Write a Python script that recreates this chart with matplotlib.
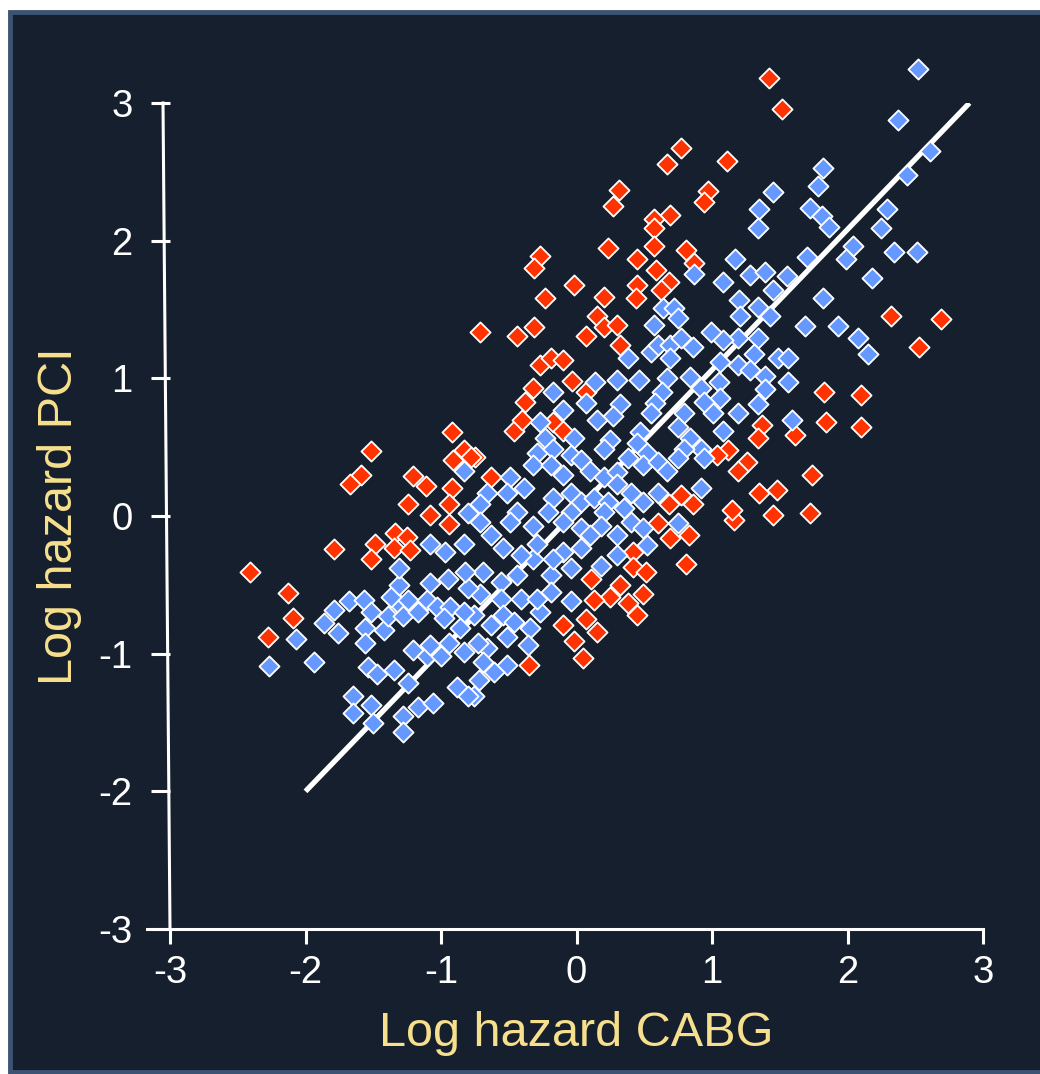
import matplotlib
matplotlib.use("Agg")
import matplotlib.pyplot as plt
from matplotlib.patches import Rectangle
from matplotlib.lines import Line2D

# Log hazard pairs: hospitals flagged as discordant (red) and concordant (blue)
red_x = [1.42, 1.52, 0.77, 0.67, 1.11, 0.31, 0.27, 0.97, 0.94, 0.69,
         0.57, 0.57, 0.23, 0.57, 0.81, 0.87, 0.45, 0.59, -0.27, -0.31,
         -0.02, 0.45, 0.68, 0.62, -0.23, 0.20, 0.44, -0.71, -0.44, -0.31,
         0.07, 0.15, 0.20, 0.30, 0.32, -0.27, -0.19, -0.10, -0.32, -0.38,
         -0.03, 0.07, -0.46, -0.40, -0.17, -0.10, -0.75, -0.63, 0.68, 0.77,
         0.86, 0.60, 0.69, 0.83, 0.81, 0.42, 0.42, 0.51, 0.32, 0.49,
         0.25, 0.38, 0.45, 0.11, 0.13, 0.07, 0.15, -0.10, -0.02, 0.05,
         -0.35, -0.92, -1.52, -1.59, -1.67, -1.21, -1.11, -0.92, -0.83, -0.91,
         -0.78, -1.24, -1.08, -0.94, -0.94, -1.34, -1.25, -1.35, -1.23, -1.49,
         -1.52, -1.79, -2.41, -2.13, -2.09, -2.28, 2.32, 2.69, 2.53, 1.83,
         2.10, 1.84, 2.10, 1.37, 1.34, 1.61, 1.12, 1.04, 1.26, 1.19,
         1.74, 1.35, 1.48, 1.16, 1.45, 1.72, 1.15]
red_y = [3.18, 2.96, 2.67, 2.56, 2.58, 2.37, 2.25, 2.36, 2.28, 2.19,
         2.16, 2.09, 1.95, 1.96, 1.93, 1.84, 1.87, 1.79, 1.89, 1.80,
         1.68, 1.68, 1.70, 1.64, 1.58, 1.59, 1.58, 1.34, 1.31, 1.37,
         1.31, 1.45, 1.37, 1.39, 1.24, 1.10, 1.15, 1.13, 0.93, 0.83,
         0.98, 0.90, 0.62, 0.70, 0.68, 0.62, 0.43, 0.28, 0.09, 0.15,
         0.09, -0.05, -0.16, -0.14, -0.35, -0.26, -0.37, -0.41, -0.50, -0.57,
         -0.59, -0.63, -0.72, -0.46, -0.61, -0.75, -0.84, -0.79, -0.91, -1.03,
         -1.08, 0.61, 0.47, 0.30, 0.23, 0.29, 0.22, 0.20, 0.48, 0.41,
         0.43, 0.09, 0.01, 0.09, -0.06, -0.12, -0.15, -0.23, -0.25, -0.20,
         -0.31, -0.24, -0.41, -0.56, -0.74, -0.88, 1.45, 1.43, 1.23, 0.90,
         0.88, 0.68, 0.65, 0.66, 0.57, 0.59, 0.48, 0.44, 0.39, 0.33,
         0.30, 0.17, 0.19, -0.03, 0.01, 0.02, 0.04]

blue_x = [2.52, 2.37, 2.61, 2.44, 1.82, 1.78, 1.45, 1.35, 1.34, 1.72,
          1.81, 1.86, 2.29, 2.25, 2.04, 1.99, 2.34, 2.51, 1.17, 1.28,
          1.39, 1.55, 1.70, 2.18, 1.08, 1.45, 1.82, 1.20, 1.21, 1.34,
          1.43, 1.69, 1.93, 2.08, 2.15, 1.19, 1.34, 1.08, 1.31, 1.49,
          1.56, 1.06, 1.19, 1.28, 1.39, 1.56, 1.05, 1.39, 1.06, 1.34,
          1.19, 1.01, 1.59, 1.08, 0.87, 0.64, 0.72, 0.75, 0.57, 0.55,
          0.38, 0.60, 0.69, 0.77, 0.86, 0.69, 0.99, -0.17, 0.14, 0.30,
          0.46, 0.67, 0.63, 0.84, 0.92, 0.58, 0.55, 0.32, 0.27, 0.15,
          0.07, -0.10, 0.79, 0.75, 0.94, -0.27, -0.23, -0.02, 0.25, 0.20,
          0.47, 0.45, 0.52, 0.84, 0.92, 0.79, -0.29, -0.17, -0.04, 0.03,
          -0.32, -0.19, -0.10, 0.10, 0.20, 0.30, 0.38, 0.49, 0.60, 0.67,
          0.75, 0.94, -0.49, -0.39, -0.51, -0.66, -0.71, -0.17, -0.04, 0.03,
          0.13, 0.23, 0.30, 0.40, 0.49, 0.60, 0.92, -0.44, -0.21, -0.04,
          0.20, 0.35, 0.75, 0.52, 0.30, 0.18, -0.04, -0.27, -0.34, -0.36,
          -0.51, -0.66, -0.69, -0.51, -0.61, -0.72, -0.76, -0.19, -0.19, -0.32,
          -0.41, -0.54, -0.63, -0.71, -0.49, -0.32, -0.10, 0.03, 0.18, 0.30,
          0.40, 0.49, -0.04, -0.10, 0.03, -0.29, -0.44, -0.56, -0.69, -0.71,
          -0.56, -0.41, -0.29, -0.54, -0.63, -0.46, -0.73, -0.76, -0.17, 0.10,
          -2.27, -1.94, -2.07, -1.79, -1.68, -1.57, -1.86, -1.76, -1.56, -1.56,
          -1.52, -1.42, -1.39, -1.32, -1.37, -1.31, -1.31, -1.24, -1.28, -1.17,
          -1.10, -1.08, -1.03, -1.08, -0.97, -0.83, -0.95, -0.93, -0.98, -0.83,
          -0.86, -0.80, -1.21, -1.10, -1.00, -1.08, -0.94, -0.83, -1.54, -1.47,
          -1.35, -1.24, -0.88, -0.80, -1.65, -1.65, -1.52, -1.50, -1.28, -1.17,
          -1.06, -1.28, -0.80, -0.83, -0.82]
blue_y = [3.25, 2.88, 2.65, 2.48, 2.53, 2.40, 2.35, 2.23, 2.09, 2.24,
          2.18, 2.10, 2.23, 2.09, 1.96, 1.87, 1.92, 1.92, 1.87, 1.75,
          1.77, 1.74, 1.88, 1.73, 1.70, 1.64, 1.58, 1.57, 1.45, 1.52,
          1.45, 1.38, 1.38, 1.29, 1.18, 1.29, 1.29, 1.28, 1.18, 1.15,
          1.15, 1.12, 1.10, 1.06, 1.02, 0.97, 0.97, 0.92, 0.86, 0.81,
          0.75, 0.75, 0.70, 0.62, 1.76, 1.51, 1.51, 1.44, 1.39, 1.19,
          1.15, 1.24, 1.24, 1.29, 1.23, 1.15, 1.34, 0.90, 0.97, 0.99,
          0.99, 1.00, 0.90, 1.01, 0.93, 0.82, 0.75, 0.81, 0.73, 0.70,
          0.82, 0.77, 0.75, 0.65, 0.83, 0.68, 0.57, 0.57, 0.55, 0.49,
          0.61, 0.53, 0.46, 0.57, 0.49, 0.49, 0.46, 0.49, 0.44, 0.41,
          0.37, 0.37, 0.30, 0.33, 0.28, 0.32, 0.42, 0.37, 0.39, 0.33,
          0.42, 0.42, 0.28, 0.20, 0.17, 0.17, 0.09, 0.13, 0.17, 0.10,
          0.13, 0.10, 0.23, 0.17, 0.10, 0.17, 0.20, 0.03, 0.03, 0.03,
          0.03, 0.06, -0.05, -0.21, -0.28, -0.36, -0.62, -0.70, -0.81, -0.94,
          -0.88, -0.96, -1.06, -1.08, -1.13, -1.19, -1.31, -0.43, -0.55, -0.31,
          -0.28, -0.23, -0.14, -0.04, -0.04, -0.07, -0.04, -0.09, -0.07, -0.14,
          -0.04, -0.09, -0.38, -0.26, -0.23, -0.20, -0.43, -0.48, -0.41, -0.57,
          -0.60, -0.60, -0.60, -0.72, -0.79, -0.77, -0.92, -0.72, -0.31, -0.14,
          -1.09, -1.06, -0.89, -0.68, -0.62, -0.61, -0.78, -0.85, -0.81, -0.92,
          -0.70, -0.83, -0.73, -0.63, -0.59, -0.50, -0.38, -0.61, -0.73, -0.70,
          -0.61, -0.49, -0.66, -0.20, -0.26, 0.33, -0.46, -0.66, -0.74, -0.70,
          -0.81, -0.52, -0.97, -1.02, -1.02, -0.94, -0.92, -0.99, -1.10, -1.15,
          -1.12, -1.21, -1.24, -1.31, -1.31, -1.43, -1.37, -1.50, -1.45, -1.39,
          -1.36, -1.57, 0.02, -0.20, -0.41]

# identity reference line
line_x = [-2.0, 2.9]
line_y = [-2.0, 3.0]

ticks = [-3, -2, -1, 0, 1, 2, 3]

BG = "#161F2D"
FRAME = "#3D5373"
LABEL = "#F7E08D"
RED = "#FF3300"
BLUE = "#6699FF"

plt.rcParams["font.family"] = ["Liberation Sans", "DejaVu Sans"]

fig = plt.figure(figsize=(10.4, 10.74), dpi=100)
fig.patch.set_facecolor("white")
panel = Rectangle((10 / 1040, 2 / 1074), 1.2, 1 - 14 / 1074,
                  transform=fig.transFigure, facecolor=BG,
                  edgecolor=FRAME, linewidth=3.5)
panel.set_zorder(-10)
fig.add_artist(panel)

ax = fig.add_axes([170 / 1040, 1 - 929 / 1074, 813 / 1040, 826 / 1074])
ax.set_zorder(1)
ax.set_facecolor("none")
ax.set_xlim(-3, 3)
ax.set_ylim(-3, 3)

ax.plot(line_x, line_y, color="white", lw=3.8, solid_capstyle="butt", zorder=2)
ax.scatter(red_x, red_y, marker="D", s=105, facecolor=RED, edgecolor="white",
           linewidth=1.3, zorder=3, clip_on=False)
ax.scatter(blue_x, blue_y, marker="D", s=105, facecolor=BLUE, edgecolor="white",
           linewidth=1.3, zorder=4, clip_on=False)

for side in ["top", "right", "left"]:
    ax.spines[side].set_visible(False)
ax.spines["bottom"].set_color("white")
ax.spines["bottom"].set_linewidth(2.2)
ax.spines["bottom"].set_bounds(-3.17, 3)

# left axis line leans slightly towards the top
ax.add_line(Line2D([0, -7 / 813], [0, 1], transform=ax.transAxes,
                   color="white", lw=2.2, clip_on=False))

ax.set_xticks(ticks)
ax.set_yticks(ticks)
ax.set_xticklabels([str(t) for t in ticks])
ax.set_yticklabels([str(t) for t in ticks])
ax.tick_params(axis="x", direction="out", length=11, width=2.2, color="white",
               labelcolor="white", labelsize=27.5, pad=8)
ax.tick_params(axis="y", direction="out", length=14, width=2.2, color="white",
               labelcolor="white", labelsize=27.5, pad=13)

ax.set_xlabel("Log hazard CABG", color=LABEL, fontsize=35, labelpad=14)
ax.set_ylabel("Log hazard PCI", color=LABEL, fontsize=35)
ax.yaxis.set_label_coords(-88 / 813, 0.5)

fig.savefig("out.png", dpi=100, facecolor=fig.get_facecolor())
